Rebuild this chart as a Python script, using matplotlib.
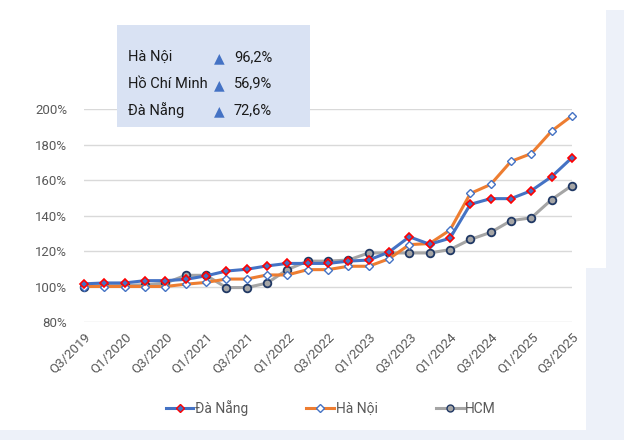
import matplotlib.pyplot as plt
from matplotlib.patches import Rectangle
from matplotlib.lines import Line2D

plt.rcParams['font.family'] = ['Roboto', 'DejaVu Sans']

# Quarter labels, Q3/2019 .. Q3/2025 (25 quarters)
quarters = []
for year in range(2019, 2026):
    for q in range(1, 5):
        if (year == 2019 and q < 3) or (year == 2025 and q > 3):
            continue
        quarters.append(f"Q{q}/{year}")

# Price index (% of Q3/2019)
da_nang = [101.5, 102, 102, 103.3, 103.3, 104, 106, 108.7, 109.7, 111.6, 113, 113, 113,
           114.3, 114.9, 119.4, 128, 123.8, 127.2, 146.3, 149.5, 149.5, 154, 161.9, 172.6]
ha_noi = [100, 100, 100, 100, 100, 101.3, 102.3, 104.2, 104.2, 106.5, 106.5, 109.5, 109.5,
          111.4, 111.4, 115.6, 123.6, 124.2, 131.8, 152.4, 157.5, 170.5, 174.9, 187.6, 196.2]
hcm = [100, 100.6, 100.6, 101, 101.9, 106.3, 106.3, 99.4, 99.4, 101.9, 109.5, 114.3, 114.3,
       114.9, 118.9, 118.9, 118.9, 118.9, 120.8, 126.5, 130.5, 137.1, 138.7, 149, 156.9]

box_names = ["Hà Nội", "Hồ Chí Minh", "Đà Nẵng"]
box_values = ["96,2%", "56,9%", "72,6%"]

fig = plt.figure(figsize=(6.24, 4.4), dpi=100)
fig.patch.set_facecolor("white")

# faint decorative background shapes
fig.patches.append(Rectangle((606 / 624, 0), 0.05, 1 - 10 / 440, transform=fig.transFigure,
                             facecolor="#EDF1F9", edgecolor="none", zorder=0))
fig.patches.append(Rectangle((586 / 624, 0), 0.05, 1 - 268 / 440, transform=fig.transFigure,
                             facecolor="#EDF1F9", edgecolor="none", zorder=0))
fig.patches.append(Rectangle((0, 0), 1, 10 / 440, transform=fig.transFigure,
                             facecolor="#EDF1F9", edgecolor="none", zorder=0))

ax = fig.add_axes([84 / 624, 1 - 322 / 440, (572 - 84) / 624, (322 - 109) / 440])
ax.set_facecolor("none")

x = list(range(len(quarters)))
ax.plot(x, ha_noi, color="#ED7D31", lw=2.2, marker="D", ms=4,
        mfc="white", mec="#4472C4", mew=1, clip_on=False, zorder=3)
ax.plot(x, da_nang, color="#4472C4", lw=2.2, marker="D", ms=4,
        mfc="#4472C4", mec="#FF0000", mew=1.2, clip_on=False, zorder=4)
ax.plot(x, hcm, color="#A5A5A5", lw=2.2, marker="o", ms=5.5,
        mfc="#A5A5A5", mec="#203864", mew=1.3, clip_on=False, zorder=2)

ax.set_xlim(0, len(quarters) - 1)
ax.set_ylim(80, 200)
ax.set_yticks(range(80, 201, 20))
ax.set_yticklabels([f"{v}%" for v in range(80, 201, 20)])
ax.set_xticks(x[::2])
ax.set_xticklabels(quarters[::2], rotation=45, ha="right", rotation_mode="anchor")
ax.tick_params(axis="both", length=0, labelsize=9.5, colors="#595959")
ax.tick_params(axis="x", pad=6)
ax.tick_params(axis="y", pad=12)
ax.grid(axis="y", color="#D9D9D9", lw=1)
for s in ax.spines.values():
    s.set_visible(False)

# legend
handles = [
    Line2D([], [], color="#4472C4", lw=2.2, marker="D", ms=4, mfc="#4472C4", mec="#FF0000"),
    Line2D([], [], color="#ED7D31", lw=2.2, marker="D", ms=4, mfc="white", mec="#4472C4"),
    Line2D([], [], color="#A5A5A5", lw=2.2, marker="o", ms=5, mfc="#A5A5A5", mec="#203864"),
]
fig.legend(handles, ["Đà Nẵng", "Hà Nội", "HCM"], loc="center", ncol=3,
           bbox_to_anchor=(0.53, 1 - 408 / 440), frameon=False, fontsize=10,
           labelcolor="#595959", handlelength=2.0, handletextpad=0.1, columnspacing=4.2)

# summary box
fig.patches.append(Rectangle((117 / 624, 1 - 127 / 440), (310 - 117) / 624, 102 / 440,
                             transform=fig.transFigure, facecolor="#D9E2F3",
                             edgecolor="none", zorder=5))
for i, (name, val) in enumerate(zip(box_names, box_values)):
    yy = 1 - (57 + i * 26.5) / 440
    fig.text(128 / 624, yy, name, fontsize=10.5, color="#1a1a1a", va="center", zorder=6)
    fig.text(214 / 624, yy - 0.004, "▲", fontsize=10, color="#4472C4", va="center",
             family="DejaVu Sans", zorder=6)
    fig.text(234 / 624, yy, val, fontsize=10.5, color="#1a1a1a", va="center", zorder=6)

fig.savefig("out.png", dpi=100)
